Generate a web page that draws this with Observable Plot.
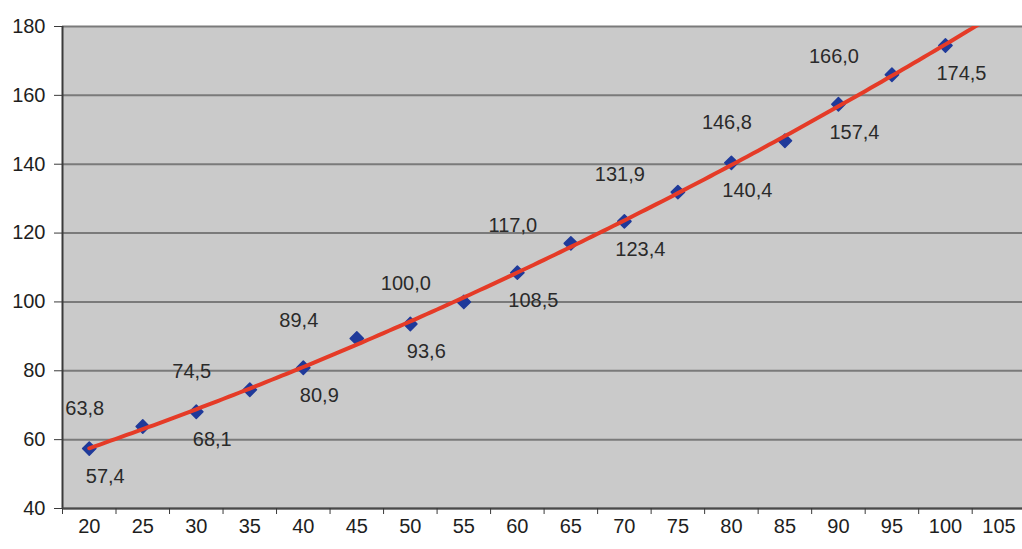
<!DOCTYPE html>
<html>
<head>
<meta charset="utf-8">
<script src="https://cdn.jsdelivr.net/npm/d3@7"></script>
<script src="https://cdn.jsdelivr.net/npm/@observablehq/plot@0.6"></script>
<style>
  html, body { margin: 0; padding: 0; background: #ffffff; }
  #chart svg { display: block; }
</style>
</head>
<body>
<div id="chart"></div>
<script>
// ---- data ----
const categories = [20, 25, 30, 35, 40, 45, 50, 55, 60, 65, 70, 75, 80, 85, 90, 95, 100];
const values = [57.4, 63.8, 68.1, 74.5, 80.9, 89.4, 93.6, 100.0, 108.5, 117.0, 123.4, 131.9, 140.4, 146.8, 157.4, 166.0, 174.5];
const xTickLabels = [20, 25, 30, 35, 40, 45, 50, 55, 60, 65, 70, 75, 80, 85, 90, 95, 100, 105];
const yTicks = [40, 60, 80, 100, 120, 140, 160, 180];

const data = categories.map((x, i) => ({x, y: values[i], i, label: values[i].toFixed(1).replace(".", ",")}));

// quadratic least-squares trend line (as in the original spreadsheet trendline)
function quadFit(xs, ys) {
  let s = [0, 0, 0, 0, 0], t = [0, 0, 0];
  xs.forEach((x, k) => {
    const y = ys[k];
    for (let p = 0; p < 5; p++) s[p] += Math.pow(x, p);
    for (let p = 0; p < 3; p++) t[p] += Math.pow(x, p) * y;
  });
  const M = [[s[0], s[1], s[2], t[0]], [s[1], s[2], s[3], t[1]], [s[2], s[3], s[4], t[2]]];
  for (let c = 0; c < 3; c++) {
    for (let r = c + 1; r < 3; r++) {
      const f = M[r][c] / M[c][c];
      for (let k = c; k < 4; k++) M[r][k] -= f * M[c][k];
    }
  }
  const coef = [0, 0, 0];
  for (let r = 2; r >= 0; r--) {
    let v = M[r][3];
    for (let k = r + 1; k < 3; k++) v -= M[r][k] * coef[k];
    coef[r] = v / M[r][r];
  }
  return x => coef[0] + coef[1] * x + coef[2] * x * x;
}
const f = quadFit(categories, values);
const trend = d3.range(20, 105.01, 0.5).map(x => ({x, y: f(x)}));

const betweenTicks = xTickLabels.map(v => v - 2.5).concat([107.5]);

const chart = Plot.plot({
  width: 1022,
  height: 549,
  marginLeft: 62,
  marginRight: 0,
  marginTop: 26,
  marginBottom: 41,
  x: {domain: [17.5, 107.2], label: null},
  y: {domain: [40, 180], label: null},
  style: {fontFamily: "'Liberation Sans', Arial, sans-serif", fontSize: "20px", color: "#1e1e1e", background: "#ffffff"},
  marks: [
    Plot.frame({fill: "#cacaca", stroke: null}),
    Plot.gridY(yTicks, {stroke: "#7a7a7a", strokeOpacity: 1, strokeWidth: 2}),
    Plot.ruleX([17.5], {stroke: "#3a3a3a", strokeWidth: 2}),
    Plot.ruleY([40], {stroke: "#4a4a4a", strokeWidth: 2}),
    Plot.axisY(yTicks, {tickSize: 8, tickPadding: 9, fontSize: 20, stroke: "#3a3a3a", letterSpacing: "-1px", label: null}),
    Plot.axisX(xTickLabels, {tickSize: 0, tickPadding: 10, fontSize: 20, letterSpacing: "-0.5px", label: null}),
    Plot.axisX(betweenTicks, {tickSize: 6, tickFormat: () => "", stroke: "#3a3a3a", label: null}),
    Plot.dot(data, {x: "x", y: "y", symbol: "diamond2", r: 6, fill: "#1f3a9a", stroke: "#1f3a9a", strokeWidth: 1.5, strokeLinejoin: "round"}),
    Plot.line(trend, {x: "x", y: "y", stroke: "#e53b27", strokeWidth: 4, clip: true}),
    Plot.text(data.filter(d => d.i % 2 === 1), {x: "x", y: "y", text: "label", dx: -58, dy: -18, fontSize: 20, fill: "#2a2a2a", letterSpacing: "-1px"}),
    Plot.text(data.filter(d => d.i % 2 === 0), {x: "x", y: "y", text: "label", dx: 16, dy: 28, fontSize: 20, fill: "#2a2a2a", letterSpacing: "-1px"})
  ]
});
document.getElementById("chart").append(chart);
</script>
</body>
</html>
